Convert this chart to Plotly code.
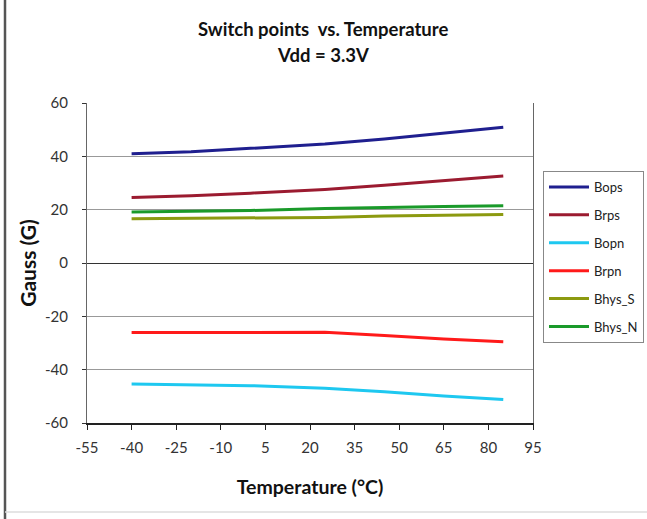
import plotly.graph_objects as go

temps = [-40, -20, 0, 25, 45, 65, 85]
bops = [41.0, 41.7, 43.0, 44.6, 46.5, 48.6, 50.9]
brps = [24.6, 25.2, 26.2, 27.6, 29.2, 31.0, 32.6]
bopn = [-45.4, -45.6, -46.0, -47.0, -48.3, -49.9, -51.2]
brpn = [-26.1, -26.0, -26.0, -26.0, -27.2, -28.5, -29.5]
bhys_s = [16.6, 16.7, 16.9, 17.1, 17.6, 18.0, 18.2]
bhys_n = [19.1, 19.4, 19.7, 20.4, 20.9, 21.2, 21.5]

series = [
    ("Bops", bops, "#1f1f8f"),
    ("Brps", brps, "#9b1b30"),
    ("Bopn", bopn, "#1ec8f0"),
    ("Brpn", brpn, "#ff1a1a"),
    ("Bhys_S", bhys_s, "#8c9a10"),
    ("Bhys_N", bhys_n, "#1a9a2a"),
]

x_ticks = [-55, -40, -25, -10, 5, 20, 35, 50, 65, 80, 95]
y_ticks = [-60, -40, -20, 0, 20, 40, 60]
title_lines = ["Switch points  vs. Temperature", "Vdd = 3.3V"]

fig = go.Figure()
for name, vals, col in series:
    fig.add_trace(go.Scatter(x=temps, y=vals, mode="lines", name=name,
                             legendgroup=name,
                             line=dict(color=col, width=3)))

fig.update_layout(
    width=647, height=519,
    margin=dict(l=87, r=114, t=103, b=96, autoexpand=False),
    paper_bgcolor="white", plot_bgcolor="white",
    font=dict(family="Lato, Open Sans, sans-serif", color="#222"),
    showlegend=True,
    legend=dict(xref="container", yref="container",
                x=543 / 647, xanchor="left", y=1 - 171 / 519, yanchor="top",
                bordercolor="#888", borderwidth=1, bgcolor="white",
                font=dict(size=13, color="#222"),
                traceorder="grouped", tracegroupgap=8,
                itemwidth=40),
    xaxis=dict(range=[-55, 95], tickvals=x_ticks, ticktext=[str(v) for v in x_ticks],
               showgrid=False, zeroline=False,
               showline=True, linecolor="#222", linewidth=1.5, mirror=False,
               ticks="outside", ticklen=5, tickcolor="#222",
               ticklabelstandoff=5,
               tickfont=dict(size=15, color="#333"),
               title=dict(text="<b>Temperature (°C)</b>", font=dict(size=19.5, color="#111"), standoff=26)),
    yaxis=dict(range=[-60, 60], tickvals=y_ticks, ticktext=[str(v) for v in y_ticks],
               showgrid=True, gridcolor="#999", gridwidth=1,
               zeroline=True, zerolinecolor="#333", zerolinewidth=1.2,
               showline=True, linecolor="#666", linewidth=1.2, mirror=True,
               ticks="outside", ticklen=4, tickcolor="#333",
               ticklabelstandoff=11,
               tickfont=dict(size=15, color="#333"),
               title=dict(text="<b>Gauss (G)</b>", font=dict(size=21, color="#111"), standoff=2)),
)

for i, (txt, ypx) in enumerate(zip(title_lines, [29, 55])):
    fig.add_annotation(text="<b>%s</b>" % txt, xref="paper", yref="paper",
                       x=(323 - 87) / 446, y=(423 - ypx) / 320,
                       xanchor="center", yanchor="middle", showarrow=False,
                       font=dict(size=18.5, color="#111"))

# outer chart frame (left dark edge and faint bottom edge)
fig.add_shape(type="line", xref="paper", yref="paper",
              x0=(5 - 87) / 446, x1=(5 - 87) / 446, y0=(423 - 519) / 320, y1=(423 - 0) / 320,
              line=dict(color="#555", width=2.5))
fig.add_shape(type="line", xref="paper", yref="paper",
              x0=(5 - 87) / 446, x1=(647 - 87) / 446, y0=(423 - 512) / 320, y1=(423 - 512) / 320,
              line=dict(color="#ddd", width=1.5))

fig.write_html("out.html", config={"displayModeBar": False},
               post_script="document.body.style.margin='0';")
